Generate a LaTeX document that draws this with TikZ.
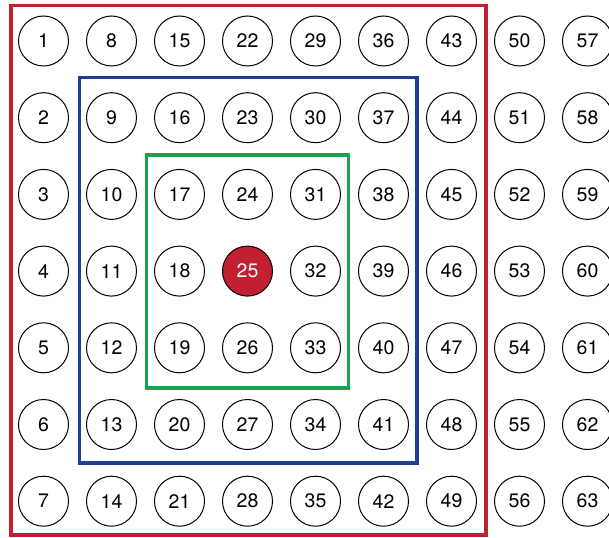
\documentclass[tikz,border=0pt]{standalone}
\usepackage{fontspec}
\setmainfont{TeX Gyre Heros}
\definecolor{boxred}{HTML}{C21F30}
\definecolor{boxblue}{HTML}{1F3C96}
\definecolor{boxgreen}{HTML}{1AA24E}
\begin{document}
\begin{tikzpicture}[x=1pt,y=-1pt,
  cell/.style={circle,draw=black,line width=1pt,minimum size=50pt,inner sep=0pt,font=\fontsize{19.5}{20}\selectfont},
  hot/.style={cell,fill=boxred,text=white},
  frame/.style={line width=3.2pt}]
\useasboundingbox (0,0) rectangle (609,537);
\begin{scope}
\clip (0,0) rectangle (609,537);
\foreach \c in {0,...,8}{
  \foreach \r in {0,...,6}{
    \pgfmathtruncatemacro{\n}{\c*7+\r+1}
    \ifnum\n=25
      \node[hot] (n\n) at ({43.5+68*\c},{41+76.7*\r}) {\n};
    \else
      \node[cell] (n\n) at ({43.5+68*\c},{41+76.7*\r}) {\n};
    \fi
  }
}
\end{scope}
\draw[frame,boxred] (11,5.5) rectangle (486,535);
\draw[frame,boxblue] (79.5,77.5) rectangle (417,463);
\draw[frame,boxgreen] (146.5,155) rectangle (348.5,388);
\end{tikzpicture}
\end{document}
